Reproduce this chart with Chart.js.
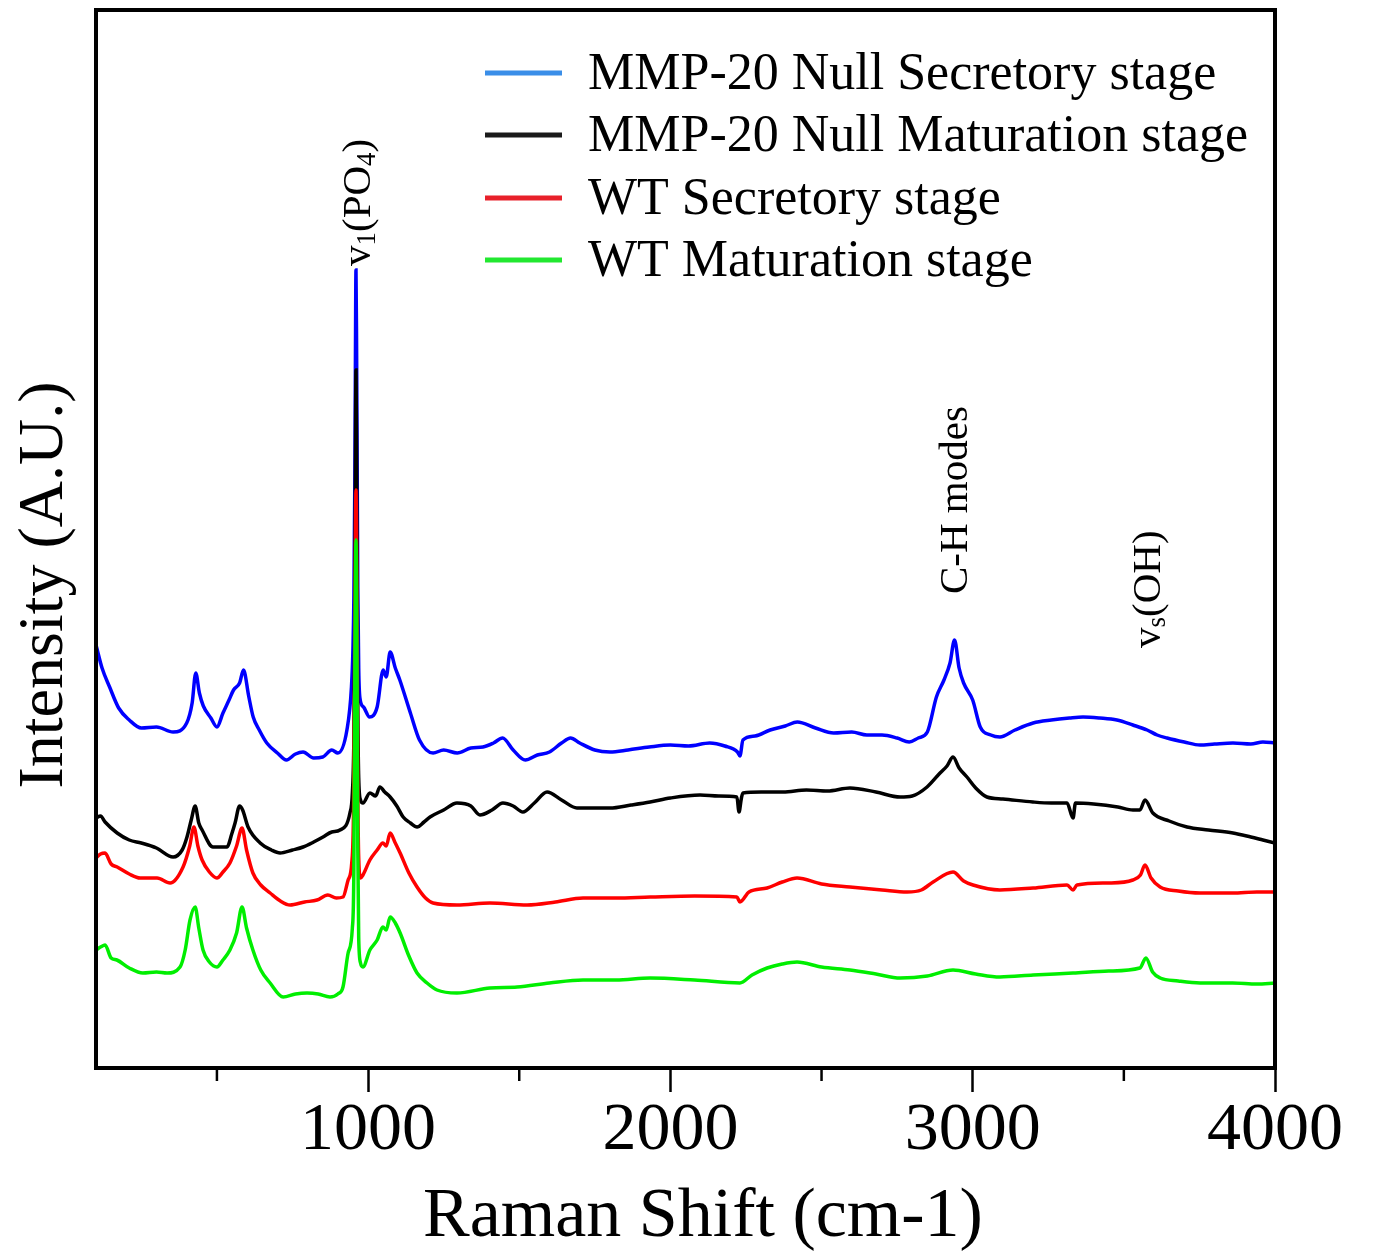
<!DOCTYPE html>
<html>
<head>
<meta charset="utf-8">
<title>Raman spectra</title>
<script src="https://cdn.jsdelivr.net/npm/chart.js@4.4.1/dist/chart.umd.min.js"></script>
<style>
  html, body { margin: 0; padding: 0; background: #fff; }
  #wrap { width: 1378px; height: 1257px; }
</style>
</head>
<body>
<div id="wrap"><canvas id="raman" width="1378" height="1257"></canvas></div>
<script>
// ===== Data (intensity in arbitrary units) =====
var seriesLabels = [
  'MMP-20 Null Secretory stage',
  'MMP-20 Null Maturation stage',
  'WT Secretory stage',
  'WT Maturation stage'
];
var lineColors = ['#0000ff', '#000000', '#ff0000', '#00ee00'];
var legendColors = ['#3a8ee8', '#1a1a1a', '#e8202a', '#22e830'];
var xTicks = [1000, 2000, 3000, 4000];
var xMinorTicks = [500, 1500, 2500, 3500];

var nullSecX = [100, 120, 145, 175, 210, 250, 300, 355, 400, 418, 430, 442, 455, 480, 500, 520, 540, 555, 575, 588, 605, 620, 640, 665, 700, 730, 760, 785, 820, 850, 880, 900, 930, 945, 950, 953, 956, 958, 960, 962, 964, 966, 969, 973, 985, 1005, 1030, 1050, 1060, 1073, 1090, 1105, 1140, 1170, 1215, 1250, 1295, 1340, 1380, 1415, 1445, 1480, 1520, 1560, 1600, 1640, 1670, 1700, 1750, 1800, 1860, 1930, 2000, 2060, 2130, 2180, 2222, 2230, 2240, 2280, 2330, 2380, 2420, 2480, 2540, 2600, 2650, 2700, 2750, 2790, 2820, 2850, 2880, 2905, 2925, 2940, 2955, 2970, 3000, 3025, 3060, 3090, 3140, 3200, 3260, 3320, 3365, 3420, 3477, 3530, 3577, 3610, 3643, 3700, 3752, 3800, 3861, 3920, 3960, 4000];
var nullSecY = [423, 400, 381, 360, 348, 340, 341, 336, 345, 365, 395, 375, 362, 350, 341, 355, 368, 378, 385, 398, 372, 351, 338, 325, 315, 308, 314, 316, 310, 311, 318, 315, 338, 381, 420, 470, 580, 700, 798, 720, 600, 480, 400, 370, 361, 351, 361, 398, 391, 416, 400, 388, 355, 328, 315, 318, 315, 320, 321, 325, 330, 318, 308, 313, 316, 325, 330, 325, 318, 316, 318, 321, 323, 322, 325, 322, 316, 312, 328, 332, 338, 342, 346, 340, 335, 336, 333, 333, 330, 326, 330, 336, 371, 388, 405, 428, 400, 385, 368, 341, 333, 331, 338, 345, 348, 350, 351, 350, 348, 343, 338, 333, 330, 326, 323, 324, 325, 324, 326, 325];

var nullMatX = [100, 115, 130, 170, 210, 250, 300, 355, 385, 401, 415, 428, 440, 451, 487, 533, 550, 560, 575, 585, 603, 643, 680, 709, 750, 785, 820, 851, 880, 907, 940, 948, 953, 956, 958, 960, 962, 964, 966, 969, 975, 983, 1006, 1025, 1039, 1055, 1073, 1095, 1116, 1140, 1162, 1185, 1205, 1250, 1294, 1340, 1370, 1410, 1446, 1480, 1512, 1550, 1592, 1640, 1691, 1750, 1800, 1870, 1933, 2000, 2098, 2160, 2220, 2227, 2235, 2240, 2300, 2373, 2450, 2520, 2594, 2680, 2760, 2800, 2849, 2892, 2915, 2935, 2955, 2981, 3010, 3047, 3100, 3199, 3260, 3312, 3332, 3340, 3400, 3480, 3530, 3553, 3570, 3596, 3650, 3709, 3780, 3861, 3920, 3960, 4000];
var nullMatY = [250, 252, 246, 235, 228, 225, 220, 211, 218, 231, 248, 262, 245, 238, 221, 221, 235, 245, 262, 258, 241, 225, 218, 215, 218, 221, 226, 231, 236, 238, 255, 275, 330, 450, 600, 698, 620, 480, 360, 290, 268, 265, 275, 272, 281, 276, 271, 262, 251, 245, 241, 246, 251, 258, 265, 262, 253, 258, 265, 262, 256, 265, 276, 268, 260, 260, 260, 263, 266, 270, 273, 272, 271, 256, 270, 275, 276, 276, 278, 277, 280, 276, 271, 272, 281, 295, 302, 311, 300, 291, 280, 271, 269, 266, 265, 265, 250, 265, 264, 261, 258, 258, 268, 255, 247, 241, 238, 235, 231, 228, 225];

var wtSecX = [100, 115, 130, 150, 170, 210, 246, 302, 345, 388, 410, 424, 437, 451, 475, 500, 520, 543, 565, 583, 598, 619, 645, 676, 710, 742, 790, 831, 867, 895, 917, 934, 946, 952, 956, 958, 960, 962, 964, 966, 969, 975, 983, 1006, 1030, 1049, 1060, 1073, 1090, 1106, 1135, 1162, 1190, 1215, 1294, 1403, 1526, 1620, 1711, 1820, 1933, 2080, 2220, 2230, 2260, 2320, 2370, 2419, 2500, 2594, 2700, 2783, 2830, 2869, 2935, 2970, 3001, 3090, 3200, 3312, 3332, 3345, 3450, 3530, 3555, 3570, 3590, 3620, 3680, 3752, 3860, 3940, 4000];
var wtSecY = [210, 214, 215, 204, 201, 194, 190, 190, 185, 201, 222, 241, 222, 208, 196, 190, 196, 205, 222, 240, 218, 195, 183, 175, 167, 163, 166, 168, 173, 170, 171, 188, 205, 260, 420, 520, 578, 520, 400, 280, 210, 190, 193, 208, 218, 225, 222, 235, 225, 215, 195, 181, 170, 165, 163, 165, 163, 166, 170, 170, 171, 172, 171, 166, 176, 180, 186, 190, 184, 181, 178, 176, 178, 186, 196, 187, 183, 178, 180, 183, 178, 183, 185, 188, 193, 203, 190, 181, 177, 175, 175, 176, 176];

var wtMatX = [100, 115, 130, 150, 169, 210, 255, 300, 335, 378, 395, 411, 428, 440, 454, 475, 500, 520, 543, 565, 583, 598, 619, 645, 676, 719, 760, 798, 835, 874, 900, 917, 934, 948, 953, 956, 958, 960, 962, 964, 966, 969, 975, 983, 1006, 1030, 1049, 1060, 1073, 1090, 1106, 1135, 1162, 1195, 1228, 1294, 1403, 1493, 1600, 1711, 1820, 1933, 2080, 2230, 2270, 2320, 2370, 2419, 2500, 2594, 2680, 2760, 2850, 2935, 3010, 3090, 3200, 3332, 3450, 3553, 3573, 3595, 3620, 3680, 3752, 3860, 3940, 4000];
var wtMatY = [118, 121, 123, 110, 108, 100, 95, 96, 95, 101, 118, 148, 161, 140, 118, 106, 101, 108, 118, 135, 161, 140, 118, 98, 85, 71, 74, 75, 74, 71, 74, 81, 115, 140, 200, 380, 480, 528, 480, 360, 220, 130, 105, 101, 118, 128, 141, 138, 151, 145, 135, 112, 95, 85, 78, 75, 80, 81, 85, 88, 88, 90, 88, 85, 93, 100, 104, 106, 101, 98, 94, 90, 92, 98, 94, 91, 93, 95, 97, 100, 110, 96, 90, 87, 85, 85, 84, 85];

var seriesX = [nullSecX, nullMatX, wtSecX, wtMatX];
var seriesY = [nullSecY, nullMatY, wtSecY, wtMatY];

// ===== Helpers =====
function toPoints(xs, ys) {
  return xs.map(function(x, i) { return { x: x, y: ys[i] }; });
}

var SERIF = '"Liberation Serif", "Times New Roman", serif';

// rotated peak labels, anchored on the x value of the band
var peakLabels = [
  { at: 960,  yStart: 266, parts: [['v', 0], ['1', 1], ['(PO', 0], ['4', 1], [')', 0]] },
  { at: 2935, yStart: 594, parts: [['C-H modes', 0]] },
  { at: 3573, yStart: 648, parts: [['v', 0], ['s', 1], ['(OH)', 0]] }
];

var decorPlugin = {
  id: 'decor',
  afterDraw: function(chart) {
    var ctx = chart.ctx;
    var area = chart.chartArea;
    var xs = chart.scales.x;
    ctx.save();

    // minor ticks
    ctx.strokeStyle = '#000';
    ctx.lineWidth = 2.5;
    xMinorTicks.forEach(function(v) {
      var px = xs.getPixelForValue(v);
      ctx.beginPath();
      ctx.moveTo(px, area.bottom);
      ctx.lineTo(px, area.bottom + 13);
      ctx.stroke();
    });

    // frame
    ctx.lineWidth = 4;
    ctx.strokeRect(area.left, area.top, area.right - area.left, area.bottom - area.top);

    // legend
    var rowsY = [73, 135, 198, 260];
    ctx.textBaseline = 'middle';
    ctx.textAlign = 'left';
    ctx.font = '52px ' + SERIF;
    seriesLabels.forEach(function(lbl, i) {
      ctx.strokeStyle = legendColors[i];
      ctx.lineWidth = 5;
      ctx.beginPath();
      ctx.moveTo(485, rowsY[i]);
      ctx.lineTo(562, rowsY[i]);
      ctx.stroke();
      ctx.fillStyle = '#000';
      ctx.fillText(lbl, 588, rowsY[i] + 2);
    });

    // axis titles
    ctx.fillStyle = '#000';
    ctx.textAlign = 'center';
    ctx.textBaseline = 'middle';
    ctx.font = '70px ' + SERIF;
    ctx.fillText('Raman Shift (cm-1)', 703, 1218);

    ctx.save();
    ctx.translate(45, 585);
    ctx.rotate(-Math.PI / 2);
    ctx.font = '64px ' + SERIF;
    ctx.fillText('Intensity (A.U.)', 0, 0);
    ctx.restore();

    // peak labels
    peakLabels.forEach(function(p) {
      var bx = xs.getPixelForValue(p.at) + 14;
      ctx.save();
      ctx.translate(bx, p.yStart);
      ctx.rotate(-Math.PI / 2);
      ctx.textAlign = 'left';
      ctx.textBaseline = 'alphabetic';
      var cx = 0;
      p.parts.forEach(function(part) {
        ctx.font = (part[1] ? '27px ' : '41px ') + SERIF;
        ctx.fillText(part[0], cx, part[1] ? 5 : 0);
        cx += ctx.measureText(part[0]).width;
      });
      ctx.restore();
    });

    ctx.restore();
  }
};

var datasets = seriesLabels.map(function(lbl, i) {
  return {
    label: lbl,
    data: toPoints(seriesX[i], seriesY[i]),
    borderColor: lineColors[i],
    borderWidth: 3.5,
    pointRadius: 0,
    fill: false,
    cubicInterpolationMode: 'monotone',
    order: 3 - i
  };
});

new Chart(document.getElementById('raman').getContext('2d'), {
  type: 'line',
  data: { datasets: datasets },
  options: {
    responsive: false,
    animation: false,
    layout: { padding: { left: 96, top: 10, right: 103, bottom: 0 } },
    plugins: { legend: { display: false }, tooltip: { enabled: false } },
    scales: {
      x: {
        type: 'linear',
        min: 100,
        max: 4000,
        afterBuildTicks: function(s) {
          s.ticks = xTicks.map(function(v) { return { value: v }; });
        },
        afterFit: function(s) { s.height = 189; },
        ticks: {
          color: '#000',
          font: { family: SERIF, size: 68 },
          padding: -2,
          maxRotation: 0,
          autoSkip: false,
          callback: function(v) { return String(v); }
        },
        grid: { drawOnChartArea: false, tickLength: 24, tickColor: '#000', tickWidth: 2.5 },
        border: { display: false }
      },
      y: {
        display: false,
        min: 0,
        max: 1058
      }
    }
  },
  plugins: [decorPlugin]
});
</script>
</body>
</html>
